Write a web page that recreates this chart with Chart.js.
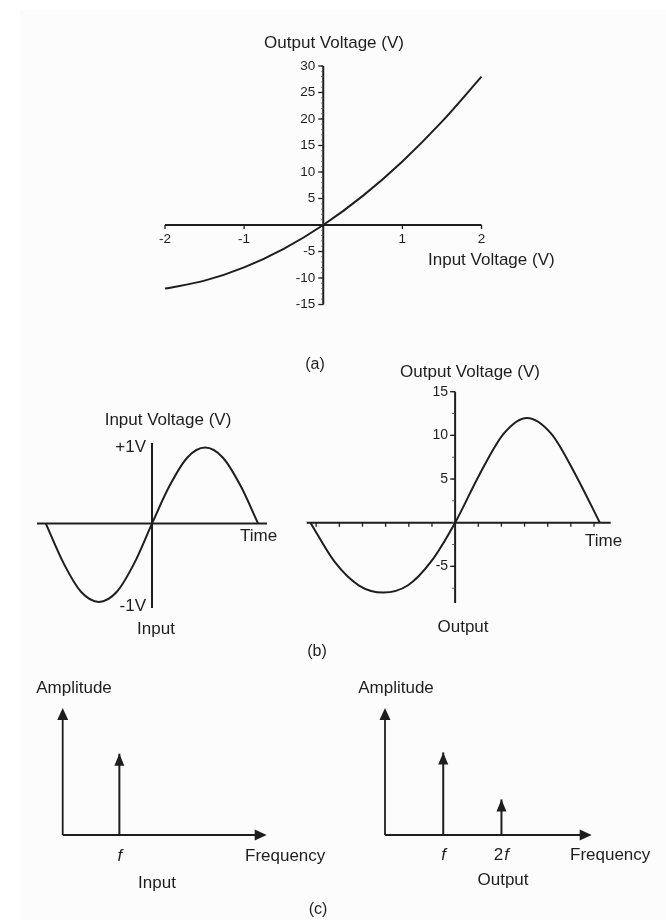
<!DOCTYPE html>
<html>
<head>
<meta charset="utf-8">
<title>Square-law amplifier: transfer curve, waveforms and spectra</title>
<script src="https://cdn.jsdelivr.net/npm/chart.js@4.4.1/dist/chart.umd.min.js"></script>
<style>
  html, body { margin: 0; padding: 0; background: #fff; }
  #figure { position: relative; width: 666px; height: 920px; background: #fff; }
  #paper { position: absolute; left: 20px; top: 10px; right: 0; bottom: 0; background: #fcfcfc; }
  #figure canvas { position: absolute; left: 0; top: 0; }
</style>
</head>
<body>
<div id="figure">
  <div id="paper"></div>
  <canvas id="transferChart" width="666" height="920"></canvas>
  <canvas id="inputWaveChart" width="666" height="920"></canvas>
  <canvas id="outputWaveChart" width="666" height="920"></canvas>
  <canvas id="inputSpectrumChart" width="666" height="920"></canvas>
  <canvas id="outputSpectrumChart" width="666" height="920"></canvas>
</div>
<script>
// ---- data ----

// (a) transfer characteristic
const transferInput = [-2, -1.5, -1, -0.5, 0, 0.5, 1, 1.5, 2];
const transferOutput = [-12, -10.5, -8, -4.5, 0, 5.5, 12, 19.5, 28];
const transferXTicks = [-2, -1, 1, 2];
const transferXLabels = ['-2', '-1', '1', '2'];
const transferYTicks = [30, 25, 20, 15, 10, 5, -5, -10, -15];
const transferYLabels = ['30', '25', '20', '15', '10', '5', '-5', '-10', '-15'];

// (b) input sine wave (time in degrees)
const inputTime = [-180, -150, -120, -90, -60, -30, 0, 30, 60, 90, 120, 150, 180];
const inputVoltage = [0, -0.52, -0.9, -1.03, -0.9, -0.52, 0, 0.5, 0.87, 1, 0.87, 0.5, 0];
const inputYTicks = [1, -1.09];
const inputYLabels = ['+1V', '-1V'];

// (b) output waveform (time in tick units)
const outputTime = [-6.25, -5.2, -4.15, -3.1, -2.05, -1.05, 0, 1.05, 2.1, 3.1, 4.15, 5.2, 6.25];
const outputVoltage = [0, -4.5, -7.2, -8, -7.2, -4.5, 0, 5.5, 10.2, 12, 10.2, 5.5, 0];
const outputXTicks = [-6, -5, -4, -3, -2, -1, 1, 2, 3, 4, 5, 6];
const outputYTicks = [15, 10, 5, -5];
const outputYLabels = ['15', '10', '5', '-5'];

// (c) spectra (frequency in multiples of f, amplitude relative to axis height)
const inputFreq = [1];
const inputAmp = [0.64];
const inputFreqLabels = ['f'];
const outputFreq = [1, 2];
const outputAmp = [0.65, 0.28];
const outputFreqLabels = ['f', '2f'];

// ---- look ----
const W = 666, H = 920;
const INK = '#1e1e1e';
const FAMILY = '"Liberation Sans", Arial, Helvetica, sans-serif';

Chart.defaults.animation = false;
Chart.defaults.font.family = FAMILY;

function font(size, italic) {
    return (italic ? 'italic ' : '') + size + 'px ' + FAMILY;
}

// filled arrow head, tip at (x, y)
function arrowHead(ctx, x, y, dir, len, half) {
    ctx.beginPath();
    if (dir === 'up') {
        ctx.moveTo(x, y);
        ctx.lineTo(x - half, y + len);
        ctx.lineTo(x + half, y + len);
    } else {
        ctx.moveTo(x, y);
        ctx.lineTo(x - len, y - half);
        ctx.lineTo(x - len, y + half);
    }
    ctx.closePath();
    ctx.fill();
}

// label where a trailing "f" is set in italics (f, 2f)
function mixedLabel(ctx, str, x, y, size) {
    const hasF = str.endsWith('f');
    const head = hasF ? str.slice(0, -1) : str;
    ctx.font = font(size, false);
    const wHead = ctx.measureText(head).width;
    ctx.font = font(size, true);
    const wF = hasF ? ctx.measureText('f').width + 1 : 0;
    let left = x - (wHead + wF) / 2;
    ctx.textAlign = 'left';
    ctx.font = font(size, false);
    ctx.fillText(head, left, y);
    if (hasF) {
        ctx.font = font(size, true);
        ctx.fillText('f', left + wHead + 1, y);
    }
}

// Axes crossing at a point, drawn from the chart's own scales
const figureAxes = {
    id: 'figureAxes',
    beforeDatasetsDraw(chart, args, opts) {
        const ctx = chart.ctx;
        const xs = chart.scales.x, ys = chart.scales.y;
        ctx.save();
        ctx.strokeStyle = INK;
        ctx.fillStyle = INK;
        ctx.textBaseline = 'middle';

        // horizontal axis
        const ax = opts.x;
        const yAt = ys.getPixelForValue(ax.at);
        const xFrom = xs.getPixelForValue(ax.from);
        const xTo = xs.getPixelForValue(ax.to);
        ctx.lineWidth = ax.width;
        ctx.beginPath();
        ctx.moveTo(xFrom, yAt);
        ctx.lineTo(ax.arrow ? xTo - ax.arrow[0] + 2 : xTo, yAt);
        ctx.stroke();
        if (ax.arrow) arrowHead(ctx, xTo, yAt, 'right', ax.arrow[0], ax.arrow[1]);
        (ax.ticks || []).forEach((v, i) => {
            const x = xs.getPixelForValue(v);
            if (ax.tickLen) {
                ctx.lineWidth = 1.3;
                ctx.beginPath();
                ctx.moveTo(x, yAt);
                ctx.lineTo(x, yAt + ax.tickLen);
                ctx.stroke();
            }
            if (ax.labels) mixedLabel(ctx, ax.labels[i], x, yAt + ax.labelGap, ax.fontSize);
        });

        // vertical axis
        const ay = opts.y;
        const xAt = xs.getPixelForValue(ay.at);
        const yFrom = ys.getPixelForValue(ay.from);
        const yTo = ys.getPixelForValue(ay.to);
        ctx.lineWidth = ay.width;
        ctx.beginPath();
        ctx.moveTo(xAt, yFrom);
        ctx.lineTo(xAt, ay.arrow ? yTo + ay.arrow[0] - 2 : yTo);
        ctx.stroke();
        if (ay.arrow) arrowHead(ctx, xAt, yTo, 'up', ay.arrow[0], ay.arrow[1]);
        if (ay.minorStep) {
            ctx.lineWidth = 1;
            ctx.strokeStyle = '#555';
            for (let v = Math.ceil(ay.from / ay.minorStep) * ay.minorStep; v <= ay.to; v += ay.minorStep) {
                const y = ys.getPixelForValue(v);
                ctx.beginPath();
                ctx.moveTo(xAt, y);
                ctx.lineTo(xAt - ay.minorLen, y);
                ctx.stroke();
            }
            ctx.strokeStyle = INK;
        }
        ctx.font = font(ay.fontSize, false);
        ctx.textAlign = 'right';
        (ay.ticks || []).forEach((v, i) => {
            const y = ys.getPixelForValue(v);
            if (ay.tickLen) {
                ctx.lineWidth = 1.3;
                ctx.beginPath();
                ctx.moveTo(xAt, y);
                ctx.lineTo(xAt - ay.tickLen, y);
                ctx.stroke();
            }
            if (ay.labels) ctx.fillText(ay.labels[i], xAt - ay.labelGap, y);
        });
        ctx.restore();
    },
    afterDatasetsDraw(chart, args, opts) {
        const ctx = chart.ctx;
        ctx.save();
        ctx.fillStyle = INK;
        // arrow heads on spectral lines
        chart.data.datasets.forEach((ds, i) => {
            if (!ds.arrowTip) return;
            const pts = chart.getDatasetMeta(i).data;
            const tip = pts[pts.length - 1];
            arrowHead(ctx, tip.x, tip.y, 'up', 12, 5);
        });
        // titles and captions
        ctx.textBaseline = 'middle';
        (opts.texts || []).forEach(t => {
            ctx.font = font(t.size || 17, false);
            ctx.textAlign = t.align || 'center';
            ctx.fillText(t.text, t.x, t.y);
        });
        ctx.restore();
    }
};

function curve(xs, ys) {
    return {
        data: xs.map((x, i) => ({ x: x, y: ys[i] })),
        showLine: true,
        borderColor: INK,
        borderWidth: 2,
        pointRadius: 0,
        cubicInterpolationMode: 'monotone',
        clip: false
    };
}

function spikes(freqs, amps) {
    return freqs.map((f, i) => ({
        data: [{ x: f, y: 0 }, { x: f, y: amps[i] }],
        showLine: true,
        borderColor: INK,
        borderWidth: 2,
        pointRadius: 0,
        arrowTip: true,
        clip: false
    }));
}

// area = pixel box of the plot area on the page
function makeChart(id, area, xRange, yRange, datasets, axes) {
    return new Chart(document.getElementById(id), {
        type: 'scatter',
        data: { datasets: datasets },
        options: {
            responsive: false,
            animation: false,
            events: [],
            layout: { padding: { left: area.l, top: area.t, right: W - area.r, bottom: H - area.b } },
            scales: {
                x: { type: 'linear', min: xRange[0], max: xRange[1], display: false },
                y: { type: 'linear', min: yRange[0], max: yRange[1], display: false }
            },
            plugins: {
                legend: { display: false },
                tooltip: { enabled: false },
                figureAxes: axes
            }
        },
        plugins: [figureAxes]
    });
}

// (a) Output voltage vs input voltage
makeChart('transferChart',
    { l: 165, r: 481.5, t: 66, b: 304.5 }, [-2, 2], [-15, 30],
    [curve(transferInput, transferOutput)],
    {
        x: { at: 0, from: -2, to: 2, width: 2, ticks: transferXTicks, labels: transferXLabels, tickLen: 4, labelGap: 14, fontSize: 13.5 },
        y: { at: 0, from: -15, to: 30, width: 2, ticks: transferYTicks, labels: transferYLabels, tickLen: 5, labelGap: 8, fontSize: 13.5, minorStep: 1, minorLen: 2 },
        texts: [
            { text: 'Output Voltage (V)', x: 334, y: 43 },
            { text: 'Input Voltage (V)', x: 428, y: 260, align: 'left' },
            { text: '(a)', x: 315, y: 365, size: 16 }
        ]
    });

// (b) input waveform
makeChart('inputWaveChart',
    { l: 37, r: 267, t: 443, b: 608 }, [-195, 195], [-1.11, 1.06],
    [curve(inputTime, inputVoltage)],
    {
        x: { at: 0, from: -195, to: 195, width: 2 },
        y: { at: 0, from: -1.11, to: 1.06, width: 2, ticks: inputYTicks, labels: inputYLabels, tickLen: 0, labelGap: 6, fontSize: 17 },
        texts: [
            { text: 'Input Voltage (V)', x: 168, y: 420 },
            { text: 'Time', x: 240, y: 536, align: 'left' },
            { text: 'Input', x: 156, y: 629 }
        ]
    });

// (b) output waveform
makeChart('outputWaveChart',
    { l: 306.7, r: 610.7, t: 391.7, b: 603 }, [-6.41, 6.72], [-9.2, 15],
    [curve(outputTime, outputVoltage)],
    {
        x: { at: 0, from: -6.41, to: 6.72, width: 2, ticks: outputXTicks, tickLen: 4 },
        y: { at: 0, from: -9.2, to: 15, width: 2, ticks: outputYTicks, labels: outputYLabels, tickLen: 5, labelGap: 7, fontSize: 14, minorStep: 2.5, minorLen: 3 },
        texts: [
            { text: 'Output Voltage (V)', x: 470, y: 372 },
            { text: 'Time', x: 585, y: 541, align: 'left' },
            { text: 'Output', x: 463, y: 627 },
            { text: '(b)', x: 317, y: 652, size: 16 }
        ]
    });

// (c) input spectrum
makeChart('inputSpectrumChart',
    { l: 62.7, r: 266.7, t: 708, b: 835 }, [0, 3.6], [0, 1],
    spikes(inputFreq, inputAmp),
    {
        x: { at: 0, from: 0, to: 3.6, width: 1.8, ticks: inputFreq, labels: inputFreqLabels, tickLen: 0, labelGap: 21, fontSize: 17, arrow: [12, 5.5] },
        y: { at: 0, from: 0, to: 1, width: 1.8, arrow: [12, 5.5] },
        texts: [
            { text: 'Amplitude', x: 74, y: 688 },
            { text: 'Frequency', x: 245, y: 856, align: 'left' },
            { text: 'Input', x: 157, y: 883 },
            { text: '(c)', x: 318, y: 910, size: 16 }
        ]
    });

// (c) output spectrum
makeChart('outputSpectrumChart',
    { l: 385, r: 591.7, t: 708, b: 835 }, [0, 3.55], [0, 1],
    spikes(outputFreq, outputAmp),
    {
        x: { at: 0, from: 0, to: 3.55, width: 1.8, ticks: outputFreq, labels: outputFreqLabels, tickLen: 0, labelGap: 20, fontSize: 17, arrow: [12, 5.5] },
        y: { at: 0, from: 0, to: 1, width: 1.8, arrow: [12, 5.5] },
        texts: [
            { text: 'Amplitude', x: 396, y: 688 },
            { text: 'Frequency', x: 570, y: 855, align: 'left' },
            { text: 'Output', x: 503, y: 880 }
        ]
    });
</script>
</body>
</html>
